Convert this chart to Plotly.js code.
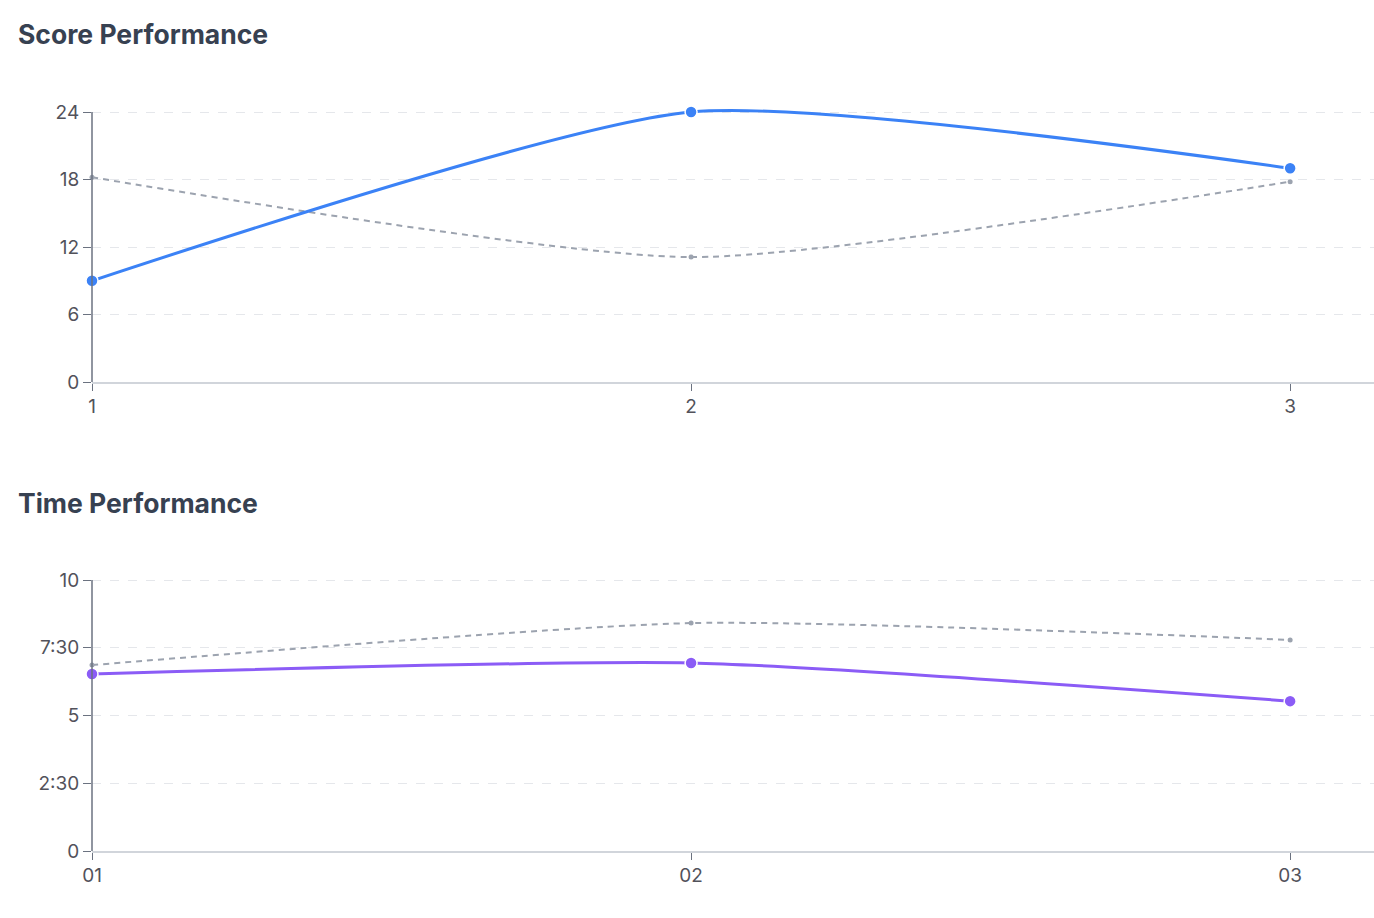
<!DOCTYPE html>
<html>
<head>
<meta charset="utf-8">
<script src="https://cdn.plot.ly/plotly-3.0.1.min.js"></script>
<style>
  html, body { margin: 0; padding: 0; background: #fff; }
  #fig { width: 1374px; height: 918px; }
</style>
</head>
<body>
<div id="fig"></div>
<script>
// score chart
var scoreCats = ['1', '2', '3'];
var scoreValues = [9, 24, 19];
var scoreAvg = [18.2, 11.1, 17.8];
var scoreTicks = [0, 6, 12, 18, 24];

// time chart (minutes)
var timeCats = ['01', '02', '03'];
var timeValues = [6.53, 6.94, 5.53];
var timeAvg = [6.86, 8.41, 7.79];
var timeTickVals = [0, 2.5, 5, 7.5, 10];
var timeTickText = ['0', '2:30', '5', '7:30', '10'];

var blue = '#3b82f6', purple = '#8b5cf6', grey = '#9ca3af', axisGrey = '#6b7280';
var H = 918;

function mainTrace(x, y, col, xa, ya) {
  return { x: x, y: y, xaxis: xa, yaxis: ya, type: 'scatter', mode: 'lines+markers',
           line: { color: col, width: 3, shape: 'spline', smoothing: 0.6 },
           marker: { color: col, size: 12, line: { color: '#fff', width: 1.5 } },
           cliponaxis: false, hoverinfo: 'skip' };
}
function avgTrace(x, y, xa, ya) {
  return { x: x, y: y, xaxis: xa, yaxis: ya, type: 'scatter', mode: 'lines+markers',
           line: { color: grey, width: 2, dash: '6px,5px', shape: 'spline', smoothing: 0.6 },
           marker: { color: grey, size: 5 },
           cliponaxis: false, hoverinfo: 'skip' };
}

var data = [
  avgTrace(scoreCats, scoreAvg, 'x', 'y'),
  mainTrace(scoreCats, scoreValues, blue, 'x', 'y'),
  avgTrace(timeCats, timeAvg, 'x2', 'y2'),
  mainTrace(timeCats, timeValues, purple, 'x2', 'y2')
];

var tickFont = { family: 'Inter, sans-serif', size: 19, color: '#52525b' };

function xAxis(anchor) {
  return { type: 'category', range: [0, 2.14], anchor: anchor, showgrid: false, zeroline: false,
           showline: true, linecolor: '#d1d5db', linewidth: 1.5,
           ticks: 'outside', ticklen: 7, tickcolor: axisGrey, tickwidth: 1,
           tickfont: tickFont, fixedrange: true };
}
// range reaches a little past the top tick so the curve over the top value is not cut;
// the domain is stretched so the ticks still sit where they should
function yAxis(anchor, bottomPx, topPx, top, extra) {
  var pxPer = (bottomPx - topPx) / top;
  return { domain: [1 - bottomPx / H, 1 - (topPx - extra * pxPer) / H], range: [0, top + extra],
           anchor: anchor, zeroline: false, showline: false,
           ticks: 'outside', ticklen: 8, tickcolor: axisGrey, tickwidth: 1,
           showgrid: true, gridcolor: '#e5e7eb', griddash: 'dash', gridwidth: 1,
           tickfont: tickFont, fixedrange: true };
}

var ya1 = yAxis('x', 382, 112, 24, 0.8);
ya1.tickvals = scoreTicks;
var ya2 = yAxis('x2', 851, 580, 10, 0.3);
ya2.tickvals = timeTickVals;
ya2.ticktext = timeTickText;

// left axis lines, only up to the top tick
function axisLine(xref, yref, top) {
  return { type: 'line', xref: xref + ' domain', yref: yref, x0: 0, x1: 0, y0: 0, y1: top,
           line: { color: axisGrey, width: 1.5 }, layer: 'above' };
}

var titleFont = { family: 'Inter, sans-serif', size: 26.5, color: '#374151', weight: 700 };

var layout = {
  width: 1374, height: H,
  margin: { l: 92, r: 0, t: 0, b: 0 },
  paper_bgcolor: '#fff', plot_bgcolor: '#fff',
  showlegend: false,
  xaxis: xAxis('y'), yaxis: ya1,
  xaxis2: xAxis('y2'), yaxis2: ya2,
  shapes: [axisLine('x', 'y', scoreTicks[scoreTicks.length - 1]),
           axisLine('x2', 'y2', timeTickVals[timeTickVals.length - 1])],
  annotations: [
    { text: 'Score Performance', xref: 'paper', yref: 'paper', x: (16 - 92) / 1282, y: 1 - 34 / H,
      xanchor: 'left', yanchor: 'middle', showarrow: false, font: titleFont },
    { text: 'Time Performance', xref: 'paper', yref: 'paper', x: (16 - 92) / 1282, y: 1 - 503 / H,
      xanchor: 'left', yanchor: 'middle', showarrow: false, font: titleFont }
  ]
};

Plotly.newPlot('fig', data, layout, { displayModeBar: false, staticPlot: true });
</script>
</body>
</html>
